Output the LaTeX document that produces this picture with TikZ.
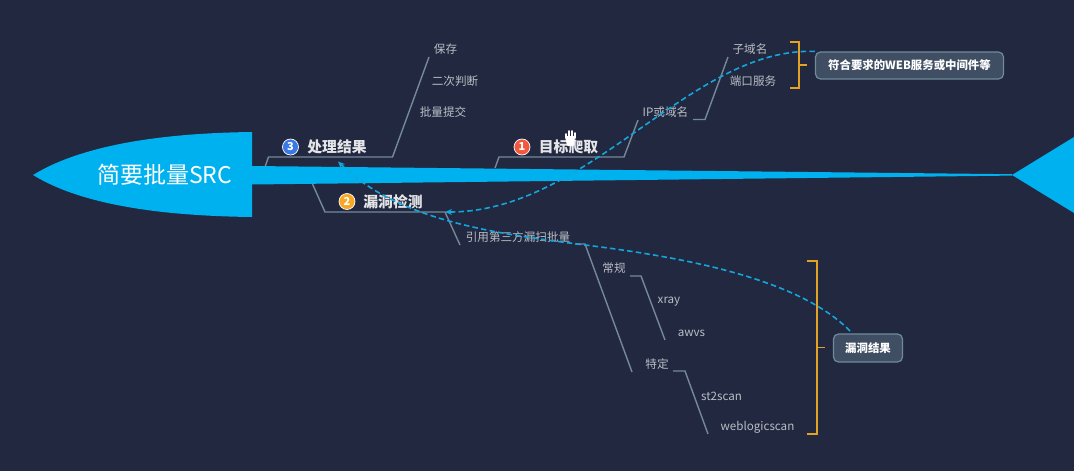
\documentclass[tikz,border=0pt]{standalone}
\usepackage{fontspec}
\usepackage{xcolor}
\setmainfont{Noto Sans CJK SC}
\usetikzlibrary{arrows.meta,positioning,calc}
\definecolor{fbback}{HTML}{22283F}
\definecolor{fbblue}{HTML}{00B1EF}
\definecolor{fbdash}{HTML}{14A6DB}
\definecolor{fbline}{HTML}{74899A}
\definecolor{fbamber}{HTML}{E2A325}
\definecolor{fbtext}{HTML}{B9BEC6}
\definecolor{fbtitle}{HTML}{E4E5E8}
\definecolor{fbbox}{HTML}{3F4E62}
\definecolor{fbboxd}{HTML}{6F8B9C}
\definecolor{fbred}{HTML}{F2583E}
\definecolor{fbazure}{HTML}{3A78E6}
\definecolor{fborange}{HTML}{F8A825}
\tikzset{
  headlbl/.style  = {font=\fontsize{23}{26}\selectfont, text=white, inner sep=0pt},
  title/.style    = {font=\fontsize{14.8}{17}\selectfont\bfseries, text=fbtitle, inner sep=0pt},
  sublbl/.style   = {font=\fontsize{11.6}{14}\selectfont, text=fbtext, inner sep=0pt},
  badge/.style    = {circle, draw=white, line width=0.7pt, minimum size=16pt, inner sep=0pt,
                     font=\fontsize{11}{12}\selectfont\bfseries, text=white},
  sumbox/.style   = {draw=fbboxd, fill=fbbox, rounded corners=5pt, line width=1.2pt,
                     font=\fontsize{11.4}{14}\selectfont\bfseries, text=white, inner sep=0pt},
  bone/.style     = {draw=fbline, line width=1.4pt},
  brace/.style    = {draw=fbamber, line width=1.6pt},
  link/.style     = {draw=fbdash, line width=1.6pt, dashed, dash pattern=on 5.5pt off 3.2pt,
                     -{Stealth[length=7pt,width=6pt]}},
}

\begin{document}
\begin{tikzpicture}[x=1pt,y=-1pt]

  \useasboundingbox (0,0) rectangle (1074,471);
  \fill[fbback] (0,0) rectangle (1074,471);

  % ---------- fish body -------------------------------------------------
  \fill[fbblue] (33,175) .. controls (85,143) and (170,133) .. (252,132)
    -- (252,217) .. controls (170,216) and (85,207) .. cycle;
  \fill[fbblue] (252,166) -- (1012,174.2) -- (1012,175.6) -- (252,184.5) -- cycle;
  \fill[fbblue] (1012,175) -- (1074,137) -- (1074,213) -- cycle;
  \node[headlbl] (head) at (164.5,175) {简要批量SRC};

  % ---------- branch titles ---------------------------------------------
  \node[badge, fill=fbazure]  (badge3) at (290.5,147) {3};
  \node[title]                (res)    at (337,146.5) {处理结果};
  \node[badge, fill=fbred]    (badge1) at (522,147) {1};
  \node[title]                (target) at (568.5,146.5) {目标爬取};
  \node[badge, fill=fborange] (badge2) at (347,201.5) {2};
  \node[title]                (scan)   at (393,201.5) {漏洞检测};

  % ---------- leaves ----------------------------------------------------
  \node[sublbl] (save)   at (445.5,49)  {保存};
  \node[sublbl] (second) at (455,81)    {二次判断};
  \node[sublbl] (submit) at (443,112.5) {批量提交};
  \node[sublbl] (ip)     at (665.5,112.5) {IP或域名};
  \node[sublbl] (subdom) at (750,49)    {子域名};
  \node[sublbl] (port)   at (753,81)    {端口服务};
  \node[sublbl] (third)  at (518,237)   {引用第三方漏扫批量};
  \node[sublbl] (usual)  at (614,268.5) {常规};
  \node[sublbl] (xray)   at (669,302)   {xray};
  \node[sublbl] (awvs)   at (691.5,333) {awvs};
  \node[sublbl] (fixed)  at (657,364)   {特定};
  \node[sublbl] (st)     at (721.5,396) {st2scan};
  \node[sublbl] (weblog) at (757.5,427.5) {weblogicscan};

  % ---------- summaries -------------------------------------------------
  \node[sumbox, minimum width=188pt, minimum height=27pt] (webbox) at (909.5,65.5)
    {符合要求的WEB服务或中间件等};
  \node[sumbox, minimum width=69pt, minimum height=28pt]  (vulbox) at (868,348)
    {漏洞结果};

  % ---------- bones -----------------------------------------------------
  \draw[bone] (265,167) -- (268.5,157) -- (392.5,157) -- (429,57);
  \draw[bone] (495,168) -- (499,157) -- (624,157) -- (638,120);
  \draw[bone] (693,119.5) -- (705,119.5) -- (728,57);
  \draw[bone] (312.5,184) -- (325,212) -- (445,212) -- (460,245);
  \draw[bone] (575,244) -- (585,244) -- (632,372);
  \draw[bone] (630,276) -- (641,276) -- (665,340);
  \draw[bone] (673,371) -- (685,371) -- (708,434);

  % ---------- brackets --------------------------------------------------
  \draw[brace] (789.5,41.7) -- (799,41.7) -- (799,88) -- (789.5,88);
  \draw[brace] (799,64.7) -- (806.5,64.7);
  \draw[brace] (807.3,260.7) -- (816.7,260.7) -- (816.7,434) -- (807.3,434);
  \draw[brace] (816.7,347.3) -- (825,347.3);

  % ---------- links -----------------------------------------------------
  \coordinate (scanEnd) at (445,212);
  \coordinate (resEnd)  at (338,161.5);
  \coordinate (vulMid)  at (585,245);
  \coordinate (vulTop)  at (850,331);
  \draw[link] (webbox.north west) .. controls (690,47) and (590,212) .. (scanEnd);
  \draw[link] (vulTop) .. controls (800,280) and (690,258) .. (vulMid)
    .. controls (500,234) and (400,222) .. (resEnd);

  % ---------- pointer ---------------------------------------------------
  \fill[white, rounded corners=1pt] (565,136) -- (575,136) -- (574,146) -- (567,146) -- cycle;
  \foreach \fx/\fy in {566/134, 569/131, 572/131, 575/133}
    \draw[white, line width=1.7pt, line cap=round] (\fx,\fy) -- (\fx,138);

\end{tikzpicture}
\end{document}
